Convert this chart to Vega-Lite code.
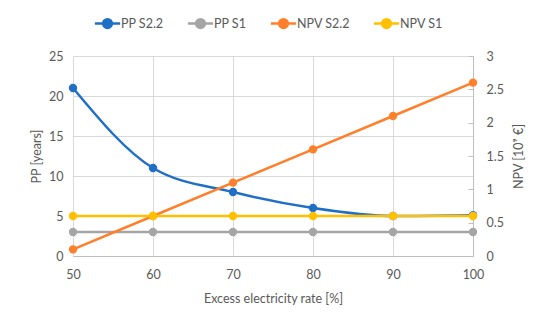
{
  "$schema": "https://vega.github.io/schema/vega-lite/v6.json",
  "width": 400,
  "height": 200,
  "autosize": {"type": "none"},
  "padding": {"left": 73, "top": 56, "right": 77, "bottom": 74},
  "background": "white",
  "config": {
    "font": "Lato",
    "view": {"stroke": null},
    "axis": {"labelColor": "#595959", "titleColor": "#595959", "labelFontSize": 12.5, "titleFontSize": 12.5, "titleFontWeight": "normal", "gridColor": "#d9d9d9", "domainColor": "#bfbfbf", "tickColor": "#bfbfbf", "labelFlush": false}
  },
  "datasets": {
    "pp": [
      {"rate": 50, "series": "PP S2.2", "value": 21},
      {"rate": 60, "series": "PP S2.2", "value": 11},
      {"rate": 70, "series": "PP S2.2", "value": 8},
      {"rate": 80, "series": "PP S2.2", "value": 6},
      {"rate": 90, "series": "PP S2.2", "value": 5},
      {"rate": 100, "series": "PP S2.2", "value": 5.1},
      {"rate": 50, "series": "PP S1", "value": 3},
      {"rate": 60, "series": "PP S1", "value": 3},
      {"rate": 70, "series": "PP S1", "value": 3},
      {"rate": 80, "series": "PP S1", "value": 3},
      {"rate": 90, "series": "PP S1", "value": 3},
      {"rate": 100, "series": "PP S1", "value": 3}
    ],
    "npv": [
      {"rate": 50, "series": "NPV S2.2", "value": 0.1},
      {"rate": 60, "series": "NPV S2.2", "value": 0.6},
      {"rate": 70, "series": "NPV S2.2", "value": 1.1},
      {"rate": 80, "series": "NPV S2.2", "value": 1.6},
      {"rate": 90, "series": "NPV S2.2", "value": 2.1},
      {"rate": 100, "series": "NPV S2.2", "value": 2.6},
      {"rate": 50, "series": "NPV S1", "value": 0.6},
      {"rate": 60, "series": "NPV S1", "value": 0.6},
      {"rate": 70, "series": "NPV S1", "value": 0.6},
      {"rate": 80, "series": "NPV S1", "value": 0.6},
      {"rate": 90, "series": "NPV S1", "value": 0.6},
      {"rate": 100, "series": "NPV S1", "value": 0.6}
    ]
  },
  "encoding": {
    "x": {"field": "rate", "type": "quantitative", "scale": {"domain": [50, 100], "nice": false},
      "axis": {"title": "Excess electricity rate [%]", "values": [50, 60, 70, 80, 90, 100], "grid": true, "ticks": false, "domain": true, "labelPadding": 12, "titlePadding": 12}},
    "color": {"field": "series", "type": "nominal",
      "scale": {"domain": ["PP S2.2", "PP S1", "NPV S2.2", "NPV S1"], "range": ["#1f6fc6", "#a5a5a5", "#ff7f2a", "#ffc000"]},
      "legend": {"title": null, "orient": "none", "direction": "horizontal", "legendX": 25, "legendY": -42,
        "labelColor": "#595959", "labelFontSize": 12.5, "columnPadding": 18,
        "symbolType": "M -1.6 0 L 1.6 0 M -0.55 0 A 0.55 0.55 0 1 1 0.55 0 A 0.55 0.55 0 1 1 -0.55 0 Z",
        "symbolSize": 250, "symbolStrokeWidth": 2.5, "symbolFillColor": null}}
  },
  "layer": [
    {
      "data": {"name": "pp"},
      "encoding": {
        "y": {"field": "value", "type": "quantitative", "scale": {"domain": [0, 25], "nice": false},
          "axis": {"title": "PP [years]", "orient": "left", "values": [0, 5, 10, 15, 20, 25], "grid": true, "domain": false, "ticks": false, "labelPadding": 10, "titlePadding": 5}}
      },
      "layer": [
        {"transform": [{"filter": "datum.series == 'PP S2.2'"}], "mark": {"type": "line", "interpolate": "monotone", "strokeWidth": 2.5}},
        {"transform": [{"filter": "datum.series == 'PP S1'"}], "mark": {"type": "line", "strokeWidth": 2.5}},
        {"mark": {"type": "point", "filled": true, "size": 70, "opacity": 1}}
      ]
    },
    {
      "data": {"name": "npv"},
      "encoding": {
        "y": {"field": "value", "type": "quantitative", "scale": {"domain": [0, 3], "nice": false},
          "axis": {"title": "NPV [10⁹ €]", "orient": "right", "values": [0, 0.5, 1, 1.5, 2, 2.5, 3], "format": "~g", "grid": false, "domain": true, "ticks": true, "tickSize": -5, "labelPadding": 18, "titleAngle": 270, "titlePadding": 22}}
      },
      "layer": [
        {"mark": {"type": "line", "strokeWidth": 2.5}},
        {"mark": {"type": "point", "filled": true, "size": 70, "opacity": 1}}
      ]
    }
  ],
  "resolve": {"scale": {"y": "independent"}}
}
